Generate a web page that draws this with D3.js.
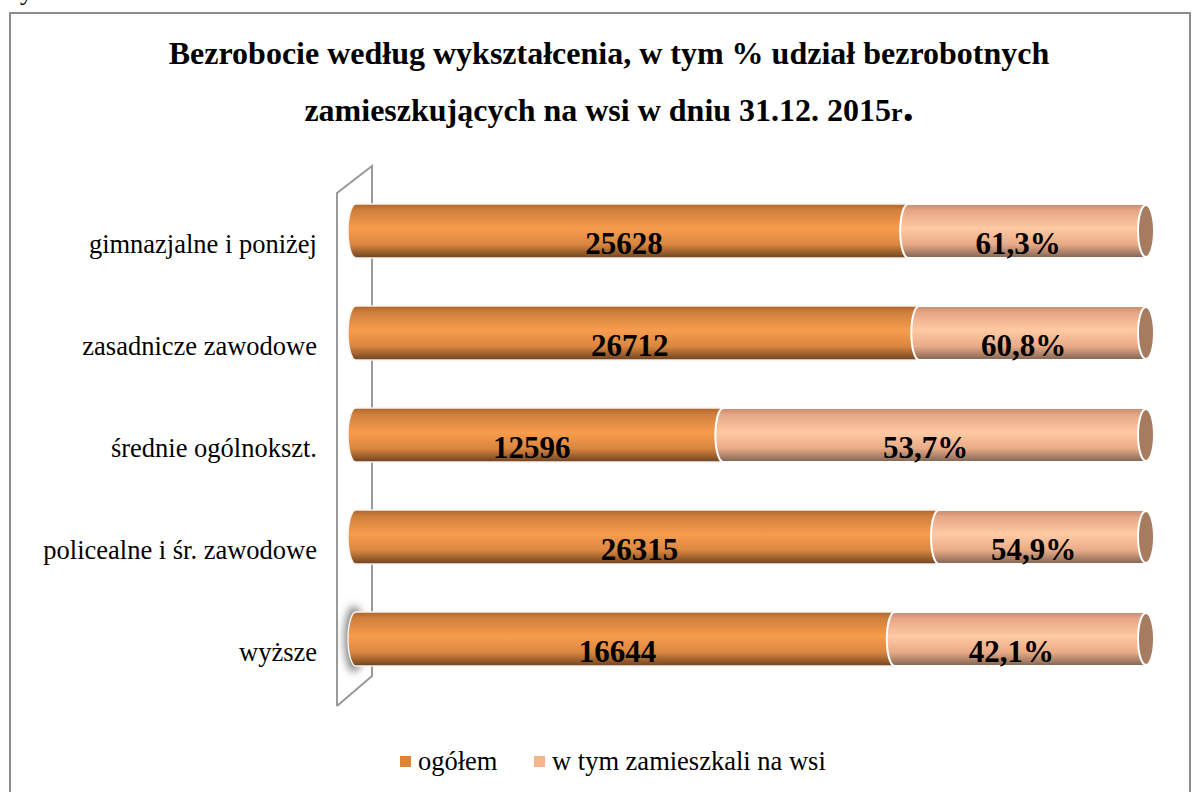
<!DOCTYPE html>
<html>
<head>
  <meta charset="utf-8">
  <script src="https://d3js.org/d3.v7.min.js"></script>
  <style>
    body { margin: 0; background: #fff; }
    svg { display: block; }
    svg text { font-family: "Liberation Serif", "Times New Roman", serif; }
  </style>
</head>
<body>
<script>
  // categories, top to bottom
  var categories = ["gimnazjalne i poniżej", "zasadnicze zawodowe", "średnie ogólnokszt.",
                    "policealne i śr. zawodowe", "wyższe"];
  // labels shown on the bars
  var ogolem = [25628, 26712, 12596, 26315, 16644];
  var wsiPct = ["61,3%", "60,8%", "53,7%", "54,9%", "42,1%"];
  // segment shares of the 100% stacked bar
  var ogolemShare = [69.9, 71.3, 46.5, 73.8, 68.2];
  var wsiShare = [30.1, 28.7, 53.5, 26.2, 31.8];
  var seriesNames = ["ogółem", "w tym zamieszkali na wsi"];

  var W = 1192, H = 792;
  var svg = d3.select("body").append("svg").attr("width", W).attr("height", H);
  var defs = svg.append("defs");

  function grad(id, stops) {
    var g = defs.append("linearGradient").attr("id", id)
      .attr("x1", 0).attr("y1", 0).attr("x2", 0).attr("y2", 1);
    stops.forEach(function (s) {
      g.append("stop").attr("offset", s[0]).attr("stop-color", s[1]);
    });
  }
  grad("gDark", [[0, "#b0652a"], [0.12, "#d07f3c"], [0.45, "#f89c4e"], [0.75, "#d9863f"], [1, "#6e4220"]]);
  grad("gLight", [[0, "#c48a6c"], [0.12, "#e6a585"], [0.45, "#ffcaa3"], [0.75, "#e8aa86"], [1, "#7f6353"]]);
  var shadow = defs.append("filter").attr("id", "blur")
    .attr("x", "-50%").attr("y", "-50%").attr("width", "200%").attr("height", "200%");
  shadow.append("feGaussianBlur").attr("stdDeviation", 4);

  // chart border + stray glyph cut off at top
  svg.append("rect").attr("x", 10).attr("y", 13).attr("width", 1180).attr("height", 800)
    .attr("fill", "none").attr("stroke", "#8c8c8c").attr("stroke-width", 2);
  svg.append("text").attr("x", 20).attr("y", 0).attr("font-size", 26).text("y");

  // title
  var title = svg.append("text").attr("text-anchor", "middle")
    .attr("font-weight", "bold").attr("font-size", 32).attr("fill", "#000");
  title.append("tspan").attr("x", 609).attr("y", 64)
    .text("Bezrobocie według wykształcenia, w tym % udział bezrobotnych");
  var l2 = title.append("tspan").attr("x", 609).attr("y", 121);
  l2.append("tspan").text("zamieszkujących na wsi w dniu 31.12. 2015");
  l2.append("tspan").attr("font-size", 26).text("r");
  l2.append("tspan").attr("font-size", 44).text(".");

  // scales
  var x = d3.scaleLinear().domain([0, 100]).range([356, 1146]);
  var y = d3.scaleBand().domain(categories).range([180, 690])
    .paddingInner(0.47).paddingOuter(0.235);
  var bh = y.bandwidth(), rx = 8;

  // back wall (3D axis plane)
  var wall = svg.append("g").attr("fill", "none").attr("stroke", "#9a9a9a").attr("stroke-width", 2);
  wall.append("path").attr("d", "M337,706 L337,193 L372,166 L372,676 L337,706");

  var rows = categories.map(function (c, i) {
    return { cat: c, a: ogolemShare[i], b: wsiShare[i], n: ogolem[i], p: wsiPct[i] };
  });
  var stack = d3.stack().keys(["a", "b"])(rows);

  // segment shape: body with convex left end
  function seg(x0, x1, t) {
    var b = t + bh;
    return "M" + x1 + "," + t + " L" + x0 + "," + t +
      " A" + rx + "," + (bh / 2) + " 0 0 0 " + x0 + "," + b +
      " L" + x1 + "," + b + " Z";
  }

  // shadow behind bottom bar start
  var last = categories[categories.length - 1];
  svg.append("ellipse").attr("cx", x(0) - 2).attr("cy", y(last) + bh / 2)
    .attr("rx", 9).attr("ry", bh / 2 + 6).attr("fill", "#777").attr("filter", "url(#blur)");

  var bars = svg.append("g");
  rows.forEach(function (d, i) {
    var t = y(d.cat);
    var sa = stack[0][i], sb = stack[1][i];
    bars.append("path").attr("d", seg(x(sa[0]), x(sa[1]), t))
      .attr("fill", "url(#gDark)").attr("stroke", "#f4f4f4").attr("stroke-width", 1.5);
    bars.append("path").attr("d", seg(x(sb[0]), x(sb[1]), t))
      .attr("fill", "url(#gLight)").attr("stroke", "#fff").attr("stroke-width", 2);
    bars.append("ellipse").attr("cx", x(sb[1])).attr("cy", t + bh / 2)
      .attr("rx", rx).attr("ry", bh / 2 - 1)
      .attr("fill", "#a77b60").attr("stroke", "#fff").attr("stroke-width", 2);

    bars.append("text").attr("x", (x(sa[0]) + x(sa[1])) / 2 - 8).attr("y", t + bh / 2 + 23)
      .attr("text-anchor", "middle").attr("font-weight", "bold").attr("font-size", 31)
      .text(d.n);
    bars.append("text").attr("x", (x(sb[0]) + x(sb[1])) / 2 - 9).attr("y", t + bh / 2 + 23)
      .attr("text-anchor", "middle").attr("font-weight", "bold").attr("font-size", 31)
      .text(d.p);
  });

  // category labels
  svg.append("g").selectAll("text").data(categories).enter().append("text")
    .attr("x", 317)
    .attr("y", function (d) { return y(d) + bh / 2 + 22; })
    .attr("text-anchor", "end").attr("font-size", 26.5).attr("fill", "#000")
    .text(function (d) { return d; });

  // legend
  var legendColors = ["#dc8438", "#f8b48c"];
  var lx = [400, 534];
  var lg = svg.append("g");
  seriesNames.forEach(function (s, i) {
    lg.append("rect").attr("x", lx[i]).attr("y", 756).attr("width", 11).attr("height", 11)
      .attr("fill", legendColors[i]);
    lg.append("text").attr("x", lx[i] + 18).attr("y", 770).attr("font-size", 26.5).text(s);
  });
</script>
</body>
</html>
